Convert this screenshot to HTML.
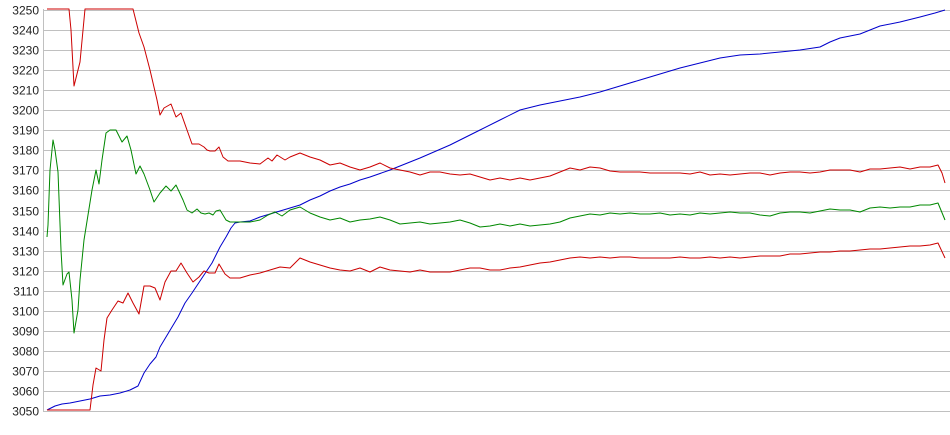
<!DOCTYPE html>
<html><head><style>body{margin:0;background:#fff}svg{display:block}text{font-family:"Liberation Sans",Arial,sans-serif;font-size:12px;fill:#222}</style></head><body>
<svg width="950" height="435" xmlns="http://www.w3.org/2000/svg">
<g id="grid" stroke="#c0c0c0" stroke-width="1"></g>
<g id="lbl"></g>
<line x1="43.5" y1="9" x2="43.5" y2="411" stroke="#c0c0c0"/>
<g fill="none" stroke-width="1" stroke-linejoin="round">
<polyline stroke="#0000cc" points="47,410 55,406 62,404 70,403 80,401 90,399 100,396 110,395 120,393 130,390 138,386 144,373 150,364 156,357 160,347 166,337 172,327 178,317 185,303 192,293 200,281 206,272 212,263 220,247 226,237 231,228 235,223 240,222 250,221 260,217 270,214 280,211 290,208 300,205 310,200 320,196 330,191 340,187 350,184 360,180 370,177 390,170 420,158 450,145 480,130 500,120 520,110 540,105 560,101 580,97 600,92 620,86 640,80 660,74 680,68 700,63 720,58 740,55 760,54 780,52 800,50 820,47 830,42 840,38 850,36 860,34 870,30 880,26 900,22 920,17 935,13 945,10"/>
<polyline stroke="#cc0000" points="47,9 69,9 71,30 74,86 80,62 85,9 133,9 139,33 144,47 150,70 157,100 160,115 164,108 171,104 176,117 181,113 187,130 192,144 199,144 204,147 207,150 210,151 215,151 219,147 223,157 228,161 240,161 250,163 260,164 268,158 272,161 277,155 285,160 290,157 300,153 310,157 320,160 330,165 340,163 350,167 360,170 370,167 380,163 390,168 400,170 410,172 420,175 430,172 440,172 450,174 460,175 470,174 480,177 490,180 500,178 510,180 520,178 530,180 540,178 550,176 560,172 570,168 580,170 590,167 600,168 610,171 620,172 630,172 640,172 650,173 660,173 670,173 680,173 690,174 700,172 710,175 720,174 730,175 740,174 750,173 760,173 770,175 780,173 790,172 800,172 810,173 820,172 830,170 840,170 850,170 860,172 870,169 880,169 890,168 900,167 910,169 920,167 930,167 938,165 942,173 945,183"/>
<polyline stroke="#008800" points="47,237 48,225 50,170 53,140 55,150 58,172 61,250 63,285 67,274 69,272 72,300 74,333 78,310 80,280 84,240 88,215 92,190 96,170 99,184 102,160 106,133 110,130 116,130 122,142 127,136 131,150 136,174 140,166 144,174 150,190 154,202 160,193 166,186 171,191 176,185 183,200 187,210 192,213 197,209 201,213 205,214 209,213 213,215 216,211 220,210 226,220 230,222 250,222 260,220 268,215 275,212 282,216 290,210 300,207 310,213 320,217 330,220 340,218 350,222 360,220 370,219 380,217 390,220 400,224 410,223 420,222 430,224 440,223 450,222 460,220 470,223 480,227 490,226 500,224 510,226 520,224 530,226 540,225 550,224 560,222 570,218 580,216 590,214 600,215 610,213 620,214 630,213 640,214 650,214 660,213 670,215 680,214 690,215 700,213 710,214 720,213 730,212 740,213 750,213 760,215 770,216 780,213 790,212 800,212 810,213 820,211 830,209 840,210 850,210 860,212 870,208 880,207 890,208 900,207 910,207 920,205 930,205 938,203 945,220"/>
<polyline stroke="#cc0000" points="47,410 90,410 93,385 96,368 101,371 104,340 107,318 112,310 118,301 123,303 128,293 133,303 139,314 144,286 150,286 155,288 160,300 165,282 171,271 176,271 181,263 187,273 193,282 199,277 204,271 209,273 215,273 219,264 225,274 230,278 240,278 250,275 260,273 270,270 280,267 290,268 300,258 310,262 320,265 330,268 340,270 350,271 360,268 370,272 380,267 390,270 400,271 410,272 420,270 430,272 440,272 450,272 460,270 470,268 480,268 490,270 500,270 510,268 520,267 530,265 540,263 550,262 560,260 570,258 580,257 590,258 600,257 610,258 620,257 630,257 640,258 650,258 660,258 670,258 680,257 690,258 700,258 710,257 720,258 730,257 740,258 750,257 760,256 770,256 780,256 790,254 800,254 810,253 820,252 830,252 840,251 850,251 860,250 870,249 880,249 890,248 900,247 910,246 920,246 930,245 938,243 945,258"/>
</g>
<script>
var g=document.getElementById('grid'),l=document.getElementById('lbl'),ns='http://www.w3.org/2000/svg';
for(var i=0;i<=20;i++){var y=Math.round(411-i*20.05)+0.5;var ln=document.createElementNS(ns,'line');ln.setAttribute('x1',43);ln.setAttribute('x2',950);ln.setAttribute('y1',y);ln.setAttribute('y2',y);g.appendChild(ln);
var t=document.createElementNS(ns,'text');t.setAttribute('x',39);t.setAttribute('y',y+4);t.setAttribute('text-anchor','end');t.textContent=3050+i*10;l.appendChild(t);}
</script>
</svg>
</body></html>
